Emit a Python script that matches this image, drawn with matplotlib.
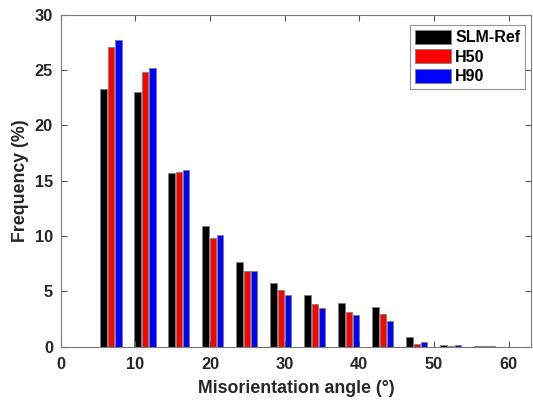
import matplotlib
matplotlib.use("Agg")
import matplotlib.pyplot as plt
import numpy as np

plt.rcParams['font.family'] = ['Liberation Sans', 'DejaVu Sans']

# bin centres (misorientation angle, degrees)
angles = [6.75, 11.3, 15.85, 20.4, 24.95, 29.5, 34.05, 38.6, 43.15, 47.7, 52.25, 56.8]
slm_ref = [23.3, 23.05, 15.7, 10.95, 7.65, 5.8, 4.65, 3.92, 3.6, 0.88, 0.12, 0.03]
h50 = [27.05, 24.85, 15.75, 9.85, 6.82, 5.12, 3.9, 3.13, 2.95, 0.24, 0.05, 0.03]
h90 = [27.7, 25.2, 16.0, 10.07, 6.82, 4.67, 3.5, 2.86, 2.32, 0.42, 0.12, 0.03]
series_names = ['SLM-Ref', 'H50', 'H90']
colors = ['#000000', '#ff0000', '#0000ff']

fig = plt.figure(figsize=(5.33, 4.04), dpi=100)
ax = fig.add_axes([0.1137, 0.1418, 0.8826, 0.8218])

x = np.array(angles)
w = 0.86
offs = [-0.98, 0.0, 0.98]
for vals, name, c, o in zip([slm_ref, h50, h90], series_names, colors, offs):
    ax.bar(x + o, vals, width=w, color=c, edgecolor='#7f7f7f', linewidth=0.6, label=name)

ax.set_xlim(0, 63)
ax.set_ylim(0, 30)
ax.set_xticks([0, 10, 20, 30, 40, 50, 60])
ax.set_yticks([0, 5, 10, 15, 20, 25, 30])
ax.tick_params(direction='in', top=True, right=True, length=4, width=0.8,
               color='#555555', labelsize=11.8)
ax.tick_params(axis='x', pad=7.5)
ax.tick_params(axis='y', pad=5.5)
for lab in ax.get_xticklabels() + ax.get_yticklabels():
    lab.set_fontweight('bold')
    lab.set_color('#262626')
for s in ax.spines.values():
    s.set_color('#7a7a7a')
    s.set_linewidth(0.8)

ax.set_xlabel('Misorientation angle (°)', fontsize=12.8, fontweight='bold', color='#262626', labelpad=5.5)
ax.set_ylabel('Frequency (%)', fontsize=12.8, fontweight='bold', color='#262626', labelpad=4)

leg = ax.legend(loc='upper right', bbox_to_anchor=(0.9875, 0.968), frameon=True, fancybox=False,
                prop={'weight': 'bold', 'size': 11.5}, handlelength=2.3, handleheight=0.95,
                borderpad=0.3, labelspacing=0.25, handletextpad=0.25, borderaxespad=0)
leg.get_frame().set_edgecolor('#7a7a7a')
leg.get_frame().set_linewidth(0.8)

fig.savefig('out.png', dpi=100)
